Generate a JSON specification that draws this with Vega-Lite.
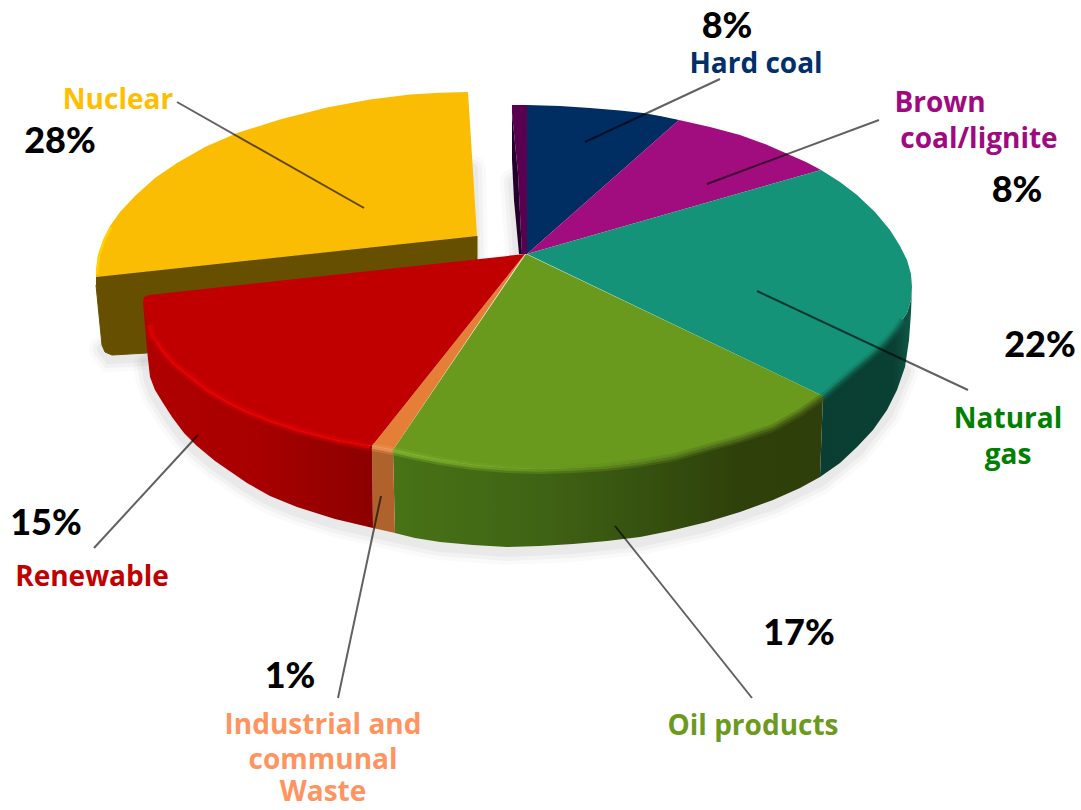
{
 "$schema":"https://vega.github.io/schema/vega-lite/v6.json",
 "autosize":{"type":"fit","contains":"padding"},
 "width":1081,"height":810,"padding":0,
 "background":"white",
 "view":{"stroke":null},
 "datasets":{
  "shadow":[
   {"group":"base","x":147,"y":360},{"group":"base","x":150,"y":377},{"group":"base","x":155,"y":390},{"group":"base","x":163,"y":403},{"group":"base","x":172,"y":417},{"group":"base","x":184,"y":433},{"group":"base","x":197,"y":446},{"group":"base","x":215,"y":461},{"group":"base","x":247,"y":483},{"group":"base","x":270,"y":496},{"group":"base","x":297,"y":507},{"group":"base","x":335,"y":519},{"group":"base","x":373,"y":528},{"group":"base","x":395,"y":533},{"group":"base","x":440,"y":542},{"group":"base","x":507,"y":547},{"group":"base","x":573,"y":544},{"group":"base","x":640,"y":537},{"group":"base","x":707,"y":522},{"group":"base","x":773,"y":500},{"group":"base","x":820,"y":477},{"group":"base","x":857,"y":447},{"group":"base","x":887,"y":410},{"group":"base","x":905,"y":367},
   {"group":"nuclear","x":103,"y":345},{"group":"nuclear","x":110,"y":354},{"group":"nuclear","x":147,"y":352},
   {"group":"nuclearRight","x":472,"y":165},{"group":"nuclearRight","x":474,"y":255},
   {"group":"gap","x":514,"y":178},{"group":"gap","x":519,"y":250}
  ],
  "wall":[
   {"x":96,"y":277},{"x":477,"y":236},{"x":477,"y":265},{"x":200,"y":300},{"x":147,"y":353},{"x":112,"y":355},{"x":105,"y":352},{"x":102,"y":345},{"x":96,"y":285}
  ],
  "sides":[
   {"segment":"Natural gas","x":912,"y":287},{"segment":"Natural gas","x":911,"y":300},{"segment":"Natural gas","x":907,"y":313},{"segment":"Natural gas","x":897,"y":328},{"segment":"Natural gas","x":885,"y":342},{"segment":"Natural gas","x":870,"y":356},{"segment":"Natural gas","x":853,"y":370},{"segment":"Natural gas","x":838,"y":383},{"segment":"Natural gas","x":823,"y":396},{"segment":"Natural gas","x":820,"y":477},{"segment":"Natural gas","x":840,"y":463},{"segment":"Natural gas","x":857,"y":447},{"segment":"Natural gas","x":873,"y":430},{"segment":"Natural gas","x":887,"y":410},{"segment":"Natural gas","x":897,"y":390},{"segment":"Natural gas","x":905,"y":367},{"segment":"Natural gas","x":909,"y":340},{"segment":"Natural gas","x":911,"y":313},
   {"segment":"Oil products","x":823,"y":396},{"segment":"Oil products","x":800,"y":412},{"segment":"Oil products","x":773,"y":427},{"segment":"Oil products","x":740,"y":438},{"segment":"Oil products","x":707,"y":447},{"segment":"Oil products","x":675,"y":456},{"segment":"Oil products","x":640,"y":462},{"segment":"Oil products","x":607,"y":466},{"segment":"Oil products","x":573,"y":468},{"segment":"Oil products","x":540,"y":469},{"segment":"Oil products","x":507,"y":468},{"segment":"Oil products","x":473,"y":465},{"segment":"Oil products","x":440,"y":460},{"segment":"Oil products","x":415,"y":455},{"segment":"Oil products","x":393,"y":450},{"segment":"Oil products","x":395,"y":533},{"segment":"Oil products","x":415,"y":538},{"segment":"Oil products","x":440,"y":542},{"segment":"Oil products","x":473,"y":545},{"segment":"Oil products","x":507,"y":547},{"segment":"Oil products","x":540,"y":546},{"segment":"Oil products","x":573,"y":544},{"segment":"Oil products","x":607,"y":541},{"segment":"Oil products","x":640,"y":537},{"segment":"Oil products","x":670,"y":531},{"segment":"Oil products","x":707,"y":522},{"segment":"Oil products","x":740,"y":512},{"segment":"Oil products","x":773,"y":500},{"segment":"Oil products","x":800,"y":488},{"segment":"Oil products","x":820,"y":477},
   {"segment":"Waste","x":372,"y":446},{"segment":"Waste","x":393,"y":450},{"segment":"Waste","x":395,"y":533},{"segment":"Waste","x":373,"y":528},
   {"segment":"Renewable","x":372,"y":446},{"segment":"Renewable","x":335,"y":440},{"segment":"Renewable","x":297,"y":430},{"segment":"Renewable","x":270,"y":421},{"segment":"Renewable","x":247,"y":412},{"segment":"Renewable","x":227,"y":402},{"segment":"Renewable","x":207,"y":390},{"segment":"Renewable","x":190,"y":377},{"segment":"Renewable","x":173,"y":363},{"segment":"Renewable","x":162,"y":350},{"segment":"Renewable","x":153,"y":337},{"segment":"Renewable","x":147,"y":320},{"segment":"Renewable","x":143,"y":302},{"segment":"Renewable","x":147,"y":350},{"segment":"Renewable","x":150,"y":377},{"segment":"Renewable","x":155,"y":390},{"segment":"Renewable","x":163,"y":403},{"segment":"Renewable","x":172,"y":417},{"segment":"Renewable","x":184,"y":433},{"segment":"Renewable","x":197,"y":446},{"segment":"Renewable","x":215,"y":461},{"segment":"Renewable","x":247,"y":483},{"segment":"Renewable","x":270,"y":496},{"segment":"Renewable","x":297,"y":507},{"segment":"Renewable","x":335,"y":519},{"segment":"Renewable","x":373,"y":528}
  ],
  "faces":[
   {"segment":"Gap wall","x":512,"y":105},{"segment":"Gap wall","x":527,"y":105},{"segment":"Gap wall","x":527,"y":254},{"segment":"Gap wall","x":522,"y":254},{"segment":"Gap wall","x":518,"y":173},{"segment":"Gap wall","x":512,"y":113},
   {"segment":"Gap shade","x":512,"y":113},{"segment":"Gap shade","x":518,"y":173},{"segment":"Gap shade","x":522,"y":254},{"segment":"Gap shade","x":519,"y":254},{"segment":"Gap shade","x":514,"y":200},{"segment":"Gap shade","x":512,"y":160},
   {"segment":"Hard coal","x":527,"y":254},{"segment":"Hard coal","x":527,"y":105},{"segment":"Hard coal","x":560,"y":106},{"segment":"Hard coal","x":590,"y":108},{"segment":"Hard coal","x":620,"y":110.5},{"segment":"Hard coal","x":643,"y":113},{"segment":"Hard coal","x":660,"y":116},{"segment":"Hard coal","x":679,"y":120},
   {"segment":"Brown coal","x":527,"y":254},{"segment":"Brown coal","x":679,"y":120},{"segment":"Brown coal","x":710,"y":127},{"segment":"Brown coal","x":740,"y":135},{"segment":"Brown coal","x":765,"y":144},{"segment":"Brown coal","x":790,"y":155},{"segment":"Brown coal","x":806,"y":162},{"segment":"Brown coal","x":821,"y":170},
   {"segment":"Natural gas","x":527,"y":254},{"segment":"Natural gas","x":821,"y":170},{"segment":"Natural gas","x":840,"y":182},{"segment":"Natural gas","x":857,"y":195},{"segment":"Natural gas","x":875,"y":212},{"segment":"Natural gas","x":890,"y":230},{"segment":"Natural gas","x":900,"y":246},{"segment":"Natural gas","x":907,"y":260},{"segment":"Natural gas","x":911,"y":274},{"segment":"Natural gas","x":912,"y":287},{"segment":"Natural gas","x":911,"y":300},{"segment":"Natural gas","x":907,"y":313},{"segment":"Natural gas","x":897,"y":328},{"segment":"Natural gas","x":885,"y":342},{"segment":"Natural gas","x":870,"y":356},{"segment":"Natural gas","x":853,"y":370},{"segment":"Natural gas","x":838,"y":383},{"segment":"Natural gas","x":823,"y":396},
   {"segment":"Oil products","x":526,"y":254},{"segment":"Oil products","x":823,"y":396},{"segment":"Oil products","x":800,"y":412},{"segment":"Oil products","x":773,"y":427},{"segment":"Oil products","x":740,"y":438},{"segment":"Oil products","x":707,"y":447},{"segment":"Oil products","x":675,"y":456},{"segment":"Oil products","x":640,"y":462},{"segment":"Oil products","x":607,"y":466},{"segment":"Oil products","x":573,"y":468},{"segment":"Oil products","x":540,"y":469},{"segment":"Oil products","x":507,"y":468},{"segment":"Oil products","x":473,"y":465},{"segment":"Oil products","x":440,"y":460},{"segment":"Oil products","x":415,"y":455},{"segment":"Oil products","x":393,"y":450},
   {"segment":"Waste","x":525,"y":254},{"segment":"Waste","x":393,"y":450},{"segment":"Waste","x":372,"y":446},
   {"segment":"Renewable","x":525,"y":254},{"segment":"Renewable","x":372,"y":446},{"segment":"Renewable","x":335,"y":440},{"segment":"Renewable","x":297,"y":430},{"segment":"Renewable","x":270,"y":421},{"segment":"Renewable","x":247,"y":412},{"segment":"Renewable","x":227,"y":402},{"segment":"Renewable","x":207,"y":390},{"segment":"Renewable","x":190,"y":377},{"segment":"Renewable","x":173,"y":363},{"segment":"Renewable","x":162,"y":350},{"segment":"Renewable","x":153,"y":337},{"segment":"Renewable","x":147,"y":320},{"segment":"Renewable","x":143,"y":302},{"segment":"Renewable","x":144,"y":297},{"segment":"Renewable","x":149,"y":295},
   {"segment":"Nuclear","x":468,"y":92},{"segment":"Nuclear","x":477,"y":236},{"segment":"Nuclear","x":96,"y":277},{"segment":"Nuclear","x":96,"y":270},{"segment":"Nuclear","x":98,"y":255},{"segment":"Nuclear","x":103,"y":240},{"segment":"Nuclear","x":110,"y":226},{"segment":"Nuclear","x":120,"y":212},{"segment":"Nuclear","x":135,"y":196},{"segment":"Nuclear","x":155,"y":178},{"segment":"Nuclear","x":177,"y":163},{"segment":"Nuclear","x":205,"y":147},{"segment":"Nuclear","x":237,"y":133},{"segment":"Nuclear","x":280,"y":119.5},{"segment":"Nuclear","x":327,"y":107.5},{"segment":"Nuclear","x":370,"y":99.5},{"segment":"Nuclear","x":410,"y":94.5},{"segment":"Nuclear","x":440,"y":92.8}
  ],
  "rims":[
   {"segment":"Renewable","x":370,"y":447},{"segment":"Renewable","x":335,"y":440},{"segment":"Renewable","x":297,"y":430},{"segment":"Renewable","x":270,"y":421},{"segment":"Renewable","x":247,"y":412},{"segment":"Renewable","x":227,"y":402},{"segment":"Renewable","x":207,"y":390},{"segment":"Renewable","x":190,"y":377},{"segment":"Renewable","x":173,"y":363},{"segment":"Renewable","x":162,"y":350},{"segment":"Renewable","x":153,"y":337},{"segment":"Renewable","x":149,"y":325},
   {"segment":"Waste","x":372,"y":447},{"segment":"Waste","x":393,"y":451},
   {"segment":"Natural gas","x":823,"y":397},{"segment":"Natural gas","x":838,"y":384},{"segment":"Natural gas","x":853,"y":371},{"segment":"Natural gas","x":870,"y":357},{"segment":"Natural gas","x":885,"y":343},{"segment":"Natural gas","x":897,"y":329},{"segment":"Natural gas","x":903,"y":320}
  ],
  "nuclearRim":[
   {"x":97,"y":274},{"x":99,"y":256},{"x":104,"y":241},{"x":111,"y":227}
  ],
  "oilRim":[
   {"x":393,"y":451},{"x":415,"y":456},{"x":440,"y":461},{"x":473,"y":466},{"x":507,"y":469},{"x":540,"y":470},{"x":573,"y":469},{"x":607,"y":467},{"x":640,"y":463},{"x":675,"y":457},{"x":707,"y":448},{"x":740,"y":439},{"x":773,"y":428},{"x":800,"y":413},{"x":823,"y":397}
  ],
  "leaders":[
   {"category":"Hard coal","x":585,"y":142,"x2":720,"y2":79},
   {"category":"Brown coal/lignite","x":707,"y":184,"x2":879,"y2":120},
   {"category":"Natural gas","x":757,"y":291,"x2":968,"y2":390},
   {"category":"Oil products","x":615,"y":526,"x2":752,"y2":698},
   {"category":"Industrial and communal Waste","x":381,"y":496,"x2":338,"y2":698},
   {"category":"Renewable","x":198,"y":435,"x2":94,"y2":548},
   {"category":"Nuclear","x":364,"y":208,"x2":177,"y2":102}
  ],
  "shares":[
   {"category":"Hard coal","share":0.08,"x":727,"y":25},
   {"category":"Brown coal/lignite","share":0.08,"x":1017,"y":189},
   {"category":"Natural gas","share":0.22,"x":1040,"y":344},
   {"category":"Oil products","share":0.17,"x":799,"y":632},
   {"category":"Industrial and communal Waste","share":0.01,"x":290,"y":675},
   {"category":"Renewable","share":0.15,"x":46,"y":522},
   {"category":"Nuclear","share":0.28,"x":60,"y":140}
  ],
  "names":[
   {"category":"Hard coal","text":"Hard coal","x":756,"y":64},
   {"category":"Brown coal/lignite","text":"Brown","x":940,"y":103},
   {"category":"Brown coal/lignite","text":"coal/lignite","x":979,"y":139},
   {"category":"Natural gas","text":"Natural","x":1008,"y":419},
   {"category":"Natural gas","text":"gas","x":1008,"y":455},
   {"category":"Oil products","text":"Oil products","x":753,"y":726},
   {"category":"Industrial and communal Waste","text":"Industrial and","x":323,"y":725},
   {"category":"Industrial and communal Waste","text":"communal","x":323,"y":760},
   {"category":"Industrial and communal Waste","text":"Waste","x":323,"y":792},
   {"category":"Renewable","text":"Renewable","x":92,"y":577},
   {"category":"Nuclear","text":"Nuclear","x":118,"y":100}
  ]
 },
 "encoding":{
  "x":{"field":"x","type":"quantitative","scale":{"domain":[0,1081],"nice":false,"zero":false},"axis":null},
  "y":{"field":"y","type":"quantitative","scale":{"domain":[810,0],"nice":false,"zero":false},"axis":null}
 },
 "layer":[
  {"data":{"name":"shadow"},"mark":{"type":"line","stroke":"black","strokeWidth":28,"opacity":0.02,"yOffset":4,"strokeCap":"round"},"encoding":{"detail":{"field":"group"},"order":{"value":null}}},
  {"data":{"name":"shadow"},"mark":{"type":"line","stroke":"black","strokeWidth":20,"opacity":0.03,"yOffset":4,"strokeCap":"round"},"encoding":{"detail":{"field":"group"},"order":{"value":null}}},
  {"data":{"name":"shadow"},"mark":{"type":"line","stroke":"black","strokeWidth":12,"opacity":0.035,"yOffset":4,"strokeCap":"round"},"encoding":{"detail":{"field":"group"},"order":{"value":null}}},
  {"data":{"name":"wall"},"mark":{"type":"line","fill":"#665000","stroke":"#665000","strokeWidth":1,"strokeJoin":"round"},"encoding":{"order":{"value":null}}},
  {"data":{"name":"sides"},"transform":[{"filter":"datum.segment === 'Natural gas'"}],
   "mark":{"type":"line","strokeWidth":0,"fill":{"gradient":"linear","x1":0,"x2":1,"y1":0,"y2":0,"stops":[{"offset":0,"color":"#0a3e32"},{"offset":0.8,"color":"#0a3f33"},{"offset":1,"color":"#0e5a48"}]}},"encoding":{"order":{"value":null}}},
  {"data":{"name":"sides"},"transform":[{"filter":"datum.segment === 'Oil products'"}],
   "mark":{"type":"line","strokeWidth":0,"fill":{"gradient":"linear","x1":0,"x2":1,"y1":0,"y2":0,"stops":[{"offset":0,"color":"#487316"},{"offset":0.35,"color":"#3f6314"},{"offset":0.6,"color":"#35500f"},{"offset":0.8,"color":"#2f410b"},{"offset":1,"color":"#2f3e0a"}]}},"encoding":{"order":{"value":null}}},
  {"data":{"name":"sides"},"transform":[{"filter":"datum.segment === 'Waste'"}],
   "mark":{"type":"line","strokeWidth":0,"fill":"#b0622c"},"encoding":{"order":{"value":null}}},
  {"data":{"name":"sides"},"transform":[{"filter":"datum.segment === 'Renewable'"}],
   "mark":{"type":"line","strokeWidth":0,"fill":{"gradient":"linear","x1":0,"x2":1,"y1":0,"y2":0,"stops":[{"offset":0,"color":"#b00000"},{"offset":0.5,"color":"#a80000"},{"offset":1,"color":"#8c0000"}]}},"encoding":{"order":{"value":null}}},
  {"data":{"name":"faces"},"mark":{"type":"line","strokeWidth":0},
   "encoding":{"order":{"value":null},
    "fill":{"field":"segment","type":"nominal","legend":null,"scale":{"domain":["Gap wall","Gap shade","Hard coal","Brown coal","Natural gas","Oil products","Waste","Renewable","Nuclear"],"range":["#5a0050","#23002a","#002d62","#a10c7f","#159378","#699a1e","#e57f38","#c00000","#fbbc04"]}}}},
  {"data":{"name":"rims"},"mark":{"type":"line","strokeWidth":8,"opacity":0.3,"strokeCap":"butt"},
   "encoding":{"order":{"value":null},
    "stroke":{"field":"segment","type":"nominal","legend":null,"scale":{"domain":["Renewable","Waste","Natural gas"],"range":["#e40000","#f09a5a","#0f6a56"]}}}},
  {"data":{"name":"rims"},"mark":{"type":"line","strokeWidth":3.5,"opacity":0.7,"strokeCap":"butt"},
   "encoding":{"order":{"value":null},
    "stroke":{"field":"segment","type":"nominal","legend":null,"scale":{"domain":["Renewable","Waste","Natural gas"],"range":["#e40000","#f09a5a","#0f6a56"]}}}},
  {"data":{"name":"nuclearRim"},"mark":{"type":"line","strokeWidth":2.5,"stroke":"#ffd400","opacity":0.9,"strokeCap":"butt"},"encoding":{"order":{"value":null}}},
  {"data":{"name":"oilRim"},"mark":{"type":"line","strokeWidth":8,"opacity":0.4,"strokeCap":"butt","stroke":{"gradient":"linear","x1":0,"x2":1,"y1":0,"y2":0,"stops":[{"offset":0,"color":"#7db02a"},{"offset":0.35,"color":"#6a9a20"},{"offset":0.7,"color":"#4f7318"},{"offset":1,"color":"#445c12"}]}},"encoding":{"order":{"value":null}}},
  {"data":{"name":"oilRim"},"mark":{"type":"line","strokeWidth":3.5,"opacity":0.7,"strokeCap":"butt","stroke":{"gradient":"linear","x1":0,"x2":1,"y1":0,"y2":0,"stops":[{"offset":0,"color":"#86b830"},{"offset":0.35,"color":"#6a9a20"},{"offset":0.7,"color":"#557a1a"},{"offset":1,"color":"#4a6414"}]}},"encoding":{"order":{"value":null}}},
  {"data":{"name":"leaders"},"mark":{"type":"rule","stroke":"black","strokeWidth":2,"opacity":0.62},
   "encoding":{"x2":{"field":"x2"},"y2":{"field":"y2"}}},
  {"data":{"name":"shares"},"mark":{"type":"text","font":"Lato","fontWeight":900,"fontSize":36,"dy":2,"align":"center","baseline":"middle","fill":"black"},
   "encoding":{"text":{"field":"share","type":"quantitative","format":".0%"}}},
  {"data":{"name":"names"},"mark":{"type":"text","font":"Open Sans","fontWeight":700,"fontSize":28,"dy":1,"align":"center","baseline":"middle"},
   "encoding":{"text":{"field":"text","type":"nominal"},
    "color":{"field":"category","type":"nominal","legend":null,"scale":{"domain":["Hard coal","Brown coal/lignite","Natural gas","Oil products","Industrial and communal Waste","Renewable","Nuclear"],"range":["#002f6c","#a00a80","#008000","#6b9a1e","#ff9460","#c00000","#ffbe00"]}}}}
 ]
}
